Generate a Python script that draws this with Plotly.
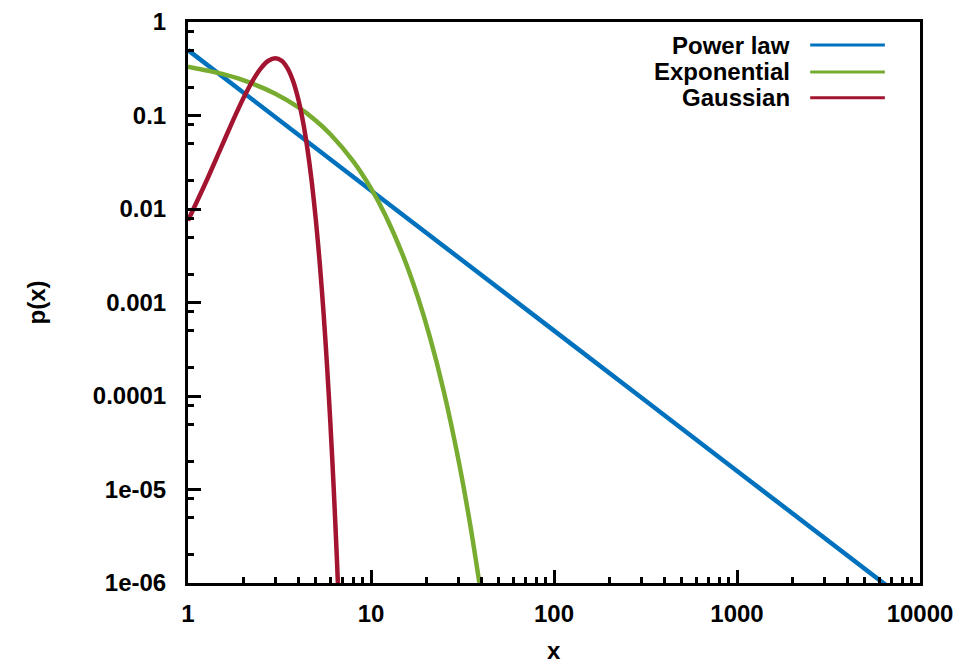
import plotly.graph_objects as go

# ---- data ----
series_names = ["Power law", "Exponential", "Gaussian"]
series_colors = ["#0072BD", "#77AC30", "#A2142F"]

power_x = [1, 10, 100, 1000, 10000]
power_y = [0.5, 0.0158, 5.0e-4, 1.58e-5, 5.0e-7]

expo_x = [1, 1.5, 2, 3, 4, 5, 6, 8, 10, 12, 15, 18, 21, 25, 30, 35, 40]
expo_y = [0.333, 0.282, 0.239, 0.171, 0.1226, 0.0879, 0.0630, 0.0323, 0.0166,
          0.00852, 0.00313, 0.00115, 4.24e-4, 1.12e-4, 2.11e-5, 3.99e-6, 7.5e-7]

gauss_x = [1, 1.25, 1.5, 1.75, 2, 2.25, 2.5, 2.75, 3, 3.25, 3.5, 3.75, 4, 4.25,
           4.5, 4.75, 5, 5.25, 5.5, 5.75, 6, 6.25, 6.5, 6.75]
gauss_y = [0.00751, 0.01918, 0.0432, 0.0859, 0.1508, 0.2336, 0.3193, 0.3851, 0.41,
           0.3851, 0.3193, 0.2336, 0.1508, 0.0859, 0.0432, 0.01918, 0.00751,
           0.002595, 7.91e-4, 2.13e-4, 5.06e-5, 1.06e-5, 1.96e-6, 3.2e-7]

x_tickvals = [1, 10, 100, 1000, 10000]
x_ticktext = ["1", "10", "100", "1000", "10000"]
y_tickvals = [1, 0.1, 0.01, 0.001, 0.0001, 1e-5, 1e-6]
y_ticktext = ["1", "0.1", "0.01", "0.001", "0.0001", "1e-05", "1e-06"]
x_title = "x"
y_title = "p(x)"

x_minor = [m * 10 ** d for d in range(4) for m in range(2, 10)]
y_minor = [m * 10.0 ** d for d in range(-6, 0) for m in (2, 5, 8)]

FONT = "Liberation Sans, Arial, sans-serif"
TXT = dict(family=FONT, size=24, color="black", weight="bold")

fig = go.Figure()
for name, color, xs, ys in zip(series_names, series_colors,
                               [power_x, expo_x, gauss_x],
                               [power_y, expo_y, gauss_y]):
    fig.add_trace(go.Scatter(x=xs, y=ys, mode="lines", name=name,
                             line=dict(color=color, width=4.5, shape="spline", smoothing=0.8),
                             showlegend=False))

# custom legend: text right-aligned, line sample on the right
legend_rows_y = [0.959, 0.911, 0.865]
for name, color, yy in zip(series_names, series_colors, legend_rows_y):
    fig.add_annotation(x=0.825, y=yy, xref="paper", yref="paper", text=name,
                       showarrow=False, xanchor="right", yanchor="middle",
                       font=TXT)
    fig.add_shape(type="line", xref="paper", yref="paper", x0=0.850, x1=0.952,
                  y0=yy, y1=yy, line=dict(color=color, width=3))

# axis titles
fig.add_annotation(x=0.5, y=-0.1194, xref="paper", yref="paper", text=x_title,
                   showarrow=False, xanchor="center", yanchor="middle",
                   height=24, valign="middle", borderpad=0, font=TXT)
fig.add_annotation(x=-0.2063, y=0.5, xref="paper", yref="paper", text=y_title,
                   showarrow=False, xanchor="center", yanchor="middle", textangle=-90,
                   font=TXT)

axis_common = dict(
    type="log", showgrid=False, zeroline=False, automargin=False,
    showline=True, linecolor="black", linewidth=3, mirror=True,
    ticks="inside", ticklen=13, tickwidth=2.5, tickcolor="black",
    tickfont=TXT,
)

fig.update_xaxes(**axis_common, range=[0, 4], tickmode="array",
                 tickvals=x_tickvals, ticktext=x_ticktext,
                 minor=dict(tickmode="array", tickvals=x_minor, ticks="inside",
                            ticklen=6, tickwidth=2.5, tickcolor="black"),
                 ticklabelstandoff=7)
fig.update_yaxes(**axis_common, range=[-6, 0], tickmode="array",
                 tickvals=y_tickvals, ticktext=y_ticktext,
                 minor=dict(tickmode="array", tickvals=y_minor, ticks="inside",
                            ticklen=6, tickwidth=2.5, tickcolor="black"),
                 ticklabelstandoff=14)

fig.update_layout(
    width=976, height=663,
    margin=dict(l=188, r=56, t=22, b=80),
    paper_bgcolor="white", plot_bgcolor="white",
    font=dict(family=FONT, size=24, color="black"),
)

fig.write_html("out.html")
